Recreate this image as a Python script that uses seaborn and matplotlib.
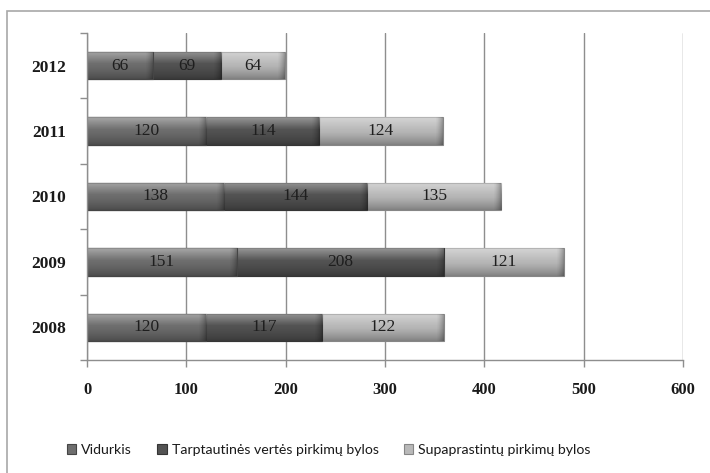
import numpy as np
import pandas as pd
import matplotlib
matplotlib.use("Agg")
import matplotlib.pyplot as plt
import seaborn as sns
from matplotlib.patches import Rectangle, Patch
from matplotlib.ticker import FixedLocator

# Case counts per year, stacked by category
years = ["2012", "2011", "2010", "2009", "2008"]
vidurkis = [66, 120, 138, 151, 120]
tarptautines = [69, 114, 144, 208, 117]
supaprastintu = [64, 124, 135, 121, 122]
series_names = ["Vidurkis", "Tarptautinės vertės pirkimų bylos", "Supaprastintų pirkimų bylos"]
x_ticks = [0, 100, 200, 300, 400, 500, 600]

colors = ["#6e6e6e", "#535353", "#b9b9b9"]
edges = ["#454545", "#353535", "#868686"]

df = pd.DataFrame({
    "year": years,
    "v": vidurkis,
    "t": tarptautines,
    "s": supaprastintu,
})
df["c1"] = df["v"]
df["c2"] = df["v"] + df["t"]
df["c3"] = df["c2"] + df["s"]

sns.set_theme(style="white")
plt.rcParams["font.family"] = ["Liberation Serif", "DejaVu Serif"]

fig = plt.figure(figsize=(7.10, 4.73), dpi=100)
ax = fig.add_axes([87 / 710, 1 - 360 / 473, 596 / 710, 327 / 473])

bar_w = 0.42
# Cumulative totals drawn back to front so each segment shows its own share
for col, c, e, z in [("c3", colors[2], edges[2], 2.0),
                     ("c2", colors[1], edges[1], 2.2),
                     ("c1", colors[0], edges[0], 2.4)]:
    sns.barplot(data=df, x=col, y="year", order=years, orient="h",
                color=c, width=bar_w, edgecolor=e, linewidth=0.8,
                saturation=1, zorder=z, ax=ax, errorbar=None)

# Bevelled shading on each bar segment
grad = np.zeros((64, 1, 4))
t = np.linspace(0, 1, 64)
for i, tv in enumerate(t):
    if tv < 0.45:
        a = 0.40 * (1 - tv / 0.45)
        grad[i, 0] = [1, 1, 1, a]
    else:
        a = 0.30 * ((tv - 0.45) / 0.55) ** 1.3
        grad[i, 0] = [0, 0, 0, a]
for p in list(ax.patches):
    x0, y0 = p.get_x(), p.get_y()
    w, h = p.get_width(), p.get_height()
    im = ax.imshow(grad, extent=(x0, x0 + w, y0 + h, y0), aspect="auto",
                   zorder=p.get_zorder() + 0.05, interpolation="bilinear")
    im.set_clip_path(p)
    # darker right-hand bevel
    rim = np.zeros((1, 16, 4))
    rim[0, :, 3] = np.linspace(0, 0.28, 16) ** 1.5 / 0.28 ** 0.5
    rw = min(8.0, w * 0.3)
    im2 = ax.imshow(rim, extent=(x0 + w - rw, x0 + w, y0 + h, y0), aspect="auto",
                    zorder=p.get_zorder() + 0.06, interpolation="bilinear")
    im2.set_clip_path(p)

# Value labels centred in each segment
for i, yr in enumerate(years):
    starts = [0, vidurkis[i], vidurkis[i] + tarptautines[i]]
    vals = [vidurkis[i], tarptautines[i], supaprastintu[i]]
    for s0, v in zip(starts, vals):
        ax.text(s0 + v / 2, i, f"{v}", ha="center", va="center",
                fontsize=12.5, color="#1e1e1e", zorder=5)

ax.set_xlim(0, 600)
ax.set_ylim(4.5, -0.5)
ax.set_xticks(x_ticks)
ax.set_xticklabels([str(v) for v in x_ticks], fontsize=12, fontweight="bold", color="#1a1a1a")
ax.set_yticklabels(years, fontsize=12.5, fontweight="bold", color="#1a1a1a")
ax.set_xlabel("")
ax.set_ylabel("")
ax.set_axisbelow(True)
ax.grid(axis="x", color="#8e8e8e", linewidth=1.0)
ax.grid(axis="y", visible=False)

for side in ["top", "right"]:
    ax.spines[side].set_visible(False)
for side in ["left", "bottom"]:
    ax.spines[side].set_color("#8e8e8e")
    ax.spines[side].set_linewidth(1.0)

ax.tick_params(axis="x", which="major", length=5, width=1, color="#8e8e8e",
               direction="out", pad=11, bottom=True)
ax.tick_params(axis="y", which="major", length=0, pad=15, left=True)
ax.yaxis.set_minor_locator(FixedLocator([-0.5, 0.5, 1.5, 2.5, 3.5, 4.5]))
ax.tick_params(axis="y", which="minor", length=5, width=1, color="#8e8e8e",
               direction="out", left=True)

# Legend below the plot
handles = [Patch(facecolor=c, edgecolor=e, linewidth=0.8) for c, e in zip(colors, edges)]
fig.legend(handles, series_names, loc="center", bbox_to_anchor=(0.463, 1 - 450 / 473),
           ncol=3, frameon=False, handlelength=0.65, handleheight=0.65,
           handletextpad=0.35, columnspacing=1.8,
           prop={"family": ["Lato", "DejaVu Sans"], "size": 10.2})
for txt in fig.legends[0].get_texts():
    txt.set_color("#1a1a1a")

# Chart frame
fig.patches.append(Rectangle((7 / 710, -0.2), 1.2, 1 - 11 / 473 + 0.2,
                             transform=fig.transFigure, fill=False,
                             edgecolor="#a8a8a8", linewidth=1.2))

fig.savefig("out.png", dpi=100, facecolor="white")
